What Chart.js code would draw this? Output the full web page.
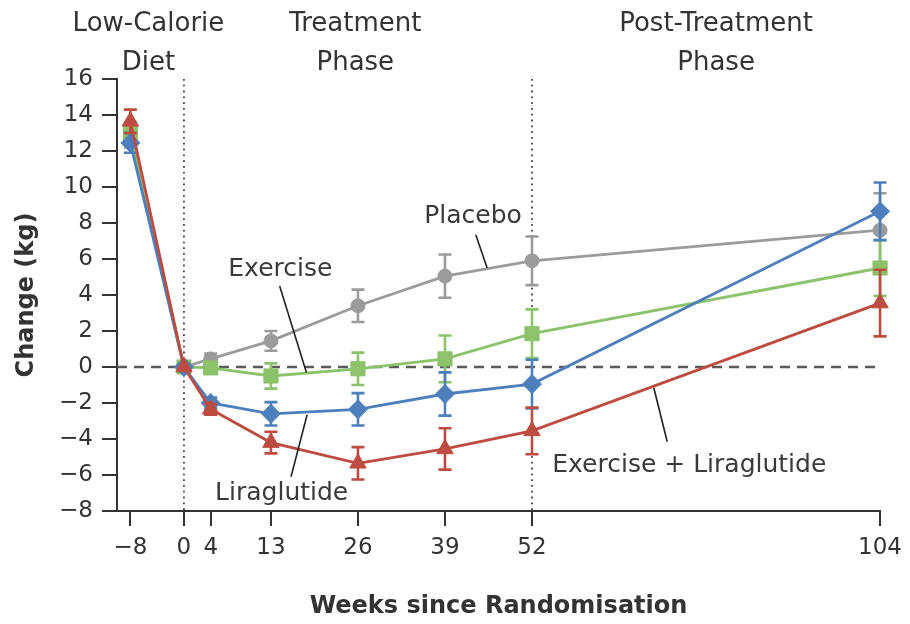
<!DOCTYPE html>
<html>
<head>
<meta charset="utf-8">
<title>Change in body weight since randomisation</title>
<script src="https://cdn.jsdelivr.net/npm/chart.js@4.4.1/dist/chart.umd.min.js"></script>
<style>
    html, body { margin: 0; padding: 0; background: #fff; }
    #wrap { width: 910px; height: 624px; }
</style>
</head>
<body>
<div id="wrap"><canvas id="chart" width="910" height="624"></canvas></div>
<script>
// weeks since randomisation (x values) and the tick positions shown
const weeks = [-8, 0, 4, 13, 26, 39, 52, 104];
const xTicks = [-8, 0, 4, 13, 26, 39, 52, 104];

// mean change in weight (kg) per group
const placebo     = [12.8, 0, 0.45, 1.45, 3.4, 5.05, 5.9, 7.6];
const exercise    = [13.0, 0, -0.05, -0.5, -0.1, 0.45, 1.85, 5.5];
const liraglutide = [12.45, 0, -2.0, -2.6, -2.35, -1.5, -0.95, 8.65];
const combined    = [13.65, 0, -2.35, -4.2, -5.35, -4.55, -3.55, 3.55];

// error bar half-widths (kg)
const placeboErr     = [0.6, 0, 0.3, 0.55, 0.9, 1.2, 1.35, 2.05];
const exerciseErr    = [0.6, 0, 0.3, 0.7, 0.9, 1.3, 1.35, 1.55];
const liraglutideErr = [0.55, 0, 0.3, 0.65, 0.9, 1.2, 1.35, 1.6];
const combinedErr    = [0.65, 0, 0.3, 0.6, 0.9, 1.15, 1.3, 1.85];

const FONT = "'DejaVu Sans', sans-serif";
const TEXT = '#333';

// phase headings above the plot (x in weeks)
const phases = [
    { x: -5.3, lines: ['Low-Calorie', 'Diet'] },
    { x: 25.6, lines: ['Treatment', 'Phase'] },
    { x: 79.5, lines: ['Post-Treatment', 'Phase'] },
];

// series labels with leader lines, in data coordinates
const callouts = [
    { text: 'Exercise', at: [14.4, 5.4], from: [14.3, 4.5], to: [18.3, -0.3] },
    { text: 'Liraglutide', at: [14.6, -7.0], from: [16.0, -6.1], to: [18.4, -2.65] },
    { text: 'Placebo', at: [43.2, 8.35], from: [43.6, 7.35], to: [45.3, 5.5] },
    { text: 'Exercise + Liraglutide', at: [75.5, -5.45], from: [70.2, -1.15], to: [72.2, -4.15] },
];

const toPoints = vals => weeks.map((w, i) => ({ x: w, y: vals[i] }));
const minus = v => String(v).replace('-', '\u2212');

function series(label, vals, errs, color, style, radius, order) {
    return {
        label,
        data: toPoints(vals),
        errors: errs,
        borderColor: color,
        backgroundColor: color,
        borderWidth: 2.8,
        pointStyle: style,
        pointRadius: radius,
        pointBorderWidth: 1,
        pointBackgroundColor: color,
        pointBorderColor: color,
        tension: 0,
        clip: false,
        order,
    };
}

const errorBars = {
    id: 'errorBars',
    beforeDatasetDraw(chart, args) {
        const ds = chart.data.datasets[args.index];
        const yScale = chart.scales.y;
        const ctx = chart.ctx;
        ctx.save();
        ctx.strokeStyle = ds.borderColor;
        ctx.lineWidth = 2.6;
        args.meta.data.forEach((pt, i) => {
            const e = ds.errors[i];
            if (!e) return;
            const v = ds.data[i].y;
            const top = yScale.getPixelForValue(v + e);
            const bot = yScale.getPixelForValue(v - e);
            ctx.beginPath();
            ctx.moveTo(pt.x, top); ctx.lineTo(pt.x, bot);
            ctx.moveTo(pt.x - 6.5, top); ctx.lineTo(pt.x + 6.5, top);
            ctx.moveTo(pt.x - 6.5, bot); ctx.lineTo(pt.x + 6.5, bot);
            ctx.stroke();
        });
        ctx.restore();
    }
};

const refLines = {
    id: 'refLines',
    beforeDatasetsDraw(chart) {
        const { ctx, chartArea: a, scales: { x, y } } = chart;
        ctx.save();
        // zero line
        ctx.strokeStyle = '#5a5a5a';
        ctx.lineWidth = 2.5;
        ctx.setLineDash([10, 7]);
        const y0 = y.getPixelForValue(0);
        ctx.beginPath();
        ctx.moveTo(a.left, y0); ctx.lineTo(a.right, y0);
        ctx.stroke();
        // phase boundaries
        ctx.strokeStyle = '#444';
        ctx.lineWidth = 1.8;
        ctx.setLineDash([1.8, 4]);
        [0, 52].forEach(w => {
            const px = x.getPixelForValue(w);
            ctx.beginPath();
            ctx.moveTo(px, a.top); ctx.lineTo(px, a.bottom);
            ctx.stroke();
        });
        ctx.restore();
    }
};

const labels = {
    id: 'labels',
    afterDraw(chart) {
        const { ctx, chartArea: a, scales: { x, y } } = chart;
        ctx.save();
        ctx.fillStyle = TEXT;
        ctx.textAlign = 'center';
        ctx.textBaseline = 'middle';
        ctx.font = `26px ${FONT}`;
        phases.forEach(p => {
            const px = x.getPixelForValue(p.x);
            ctx.fillText(p.lines[0], px, a.top - 55);
            ctx.fillText(p.lines[1], px, a.top - 16);
        });

        ctx.strokeStyle = '#222';
        ctx.lineWidth = 1.6;
        ctx.font = `25px ${FONT}`;
        callouts.forEach(c => {
            ctx.beginPath();
            ctx.moveTo(x.getPixelForValue(c.from[0]), y.getPixelForValue(c.from[1]));
            ctx.lineTo(x.getPixelForValue(c.to[0]), y.getPixelForValue(c.to[1]));
            ctx.stroke();
            ctx.fillStyle = '#3a3a3a';
            ctx.fillText(c.text, x.getPixelForValue(c.at[0]), y.getPixelForValue(c.at[1]));
        });
        ctx.restore();
    }
};

new Chart(document.getElementById('chart'), {
    type: 'line',
    data: {
        datasets: [
            series('Placebo', placebo, placeboErr, '#9b9b9b', 'circle', 7, 4),
            series('Exercise', exercise, exerciseErr, '#8cc26a', 'rect', 10, 3),
            series('Liraglutide', liraglutide, liraglutideErr, '#4e7fbd', 'rectRot', 9.5, 2),
            series('Exercise + Liraglutide', combined, combinedErr, '#bd4b40', 'triangle', 9.5, 1),
        ]
    },
    options: {
        responsive: false,
        animation: false,
        layout: { padding: { top: 79, right: 28, left: 0, bottom: 0 } },
        plugins: {
            legend: { display: false },
            tooltip: { enabled: false },
        },
        scales: {
            x: {
                type: 'linear',
                min: -10,
                max: 104,
                afterFit: s => { s.height = 113; },
                afterBuildTicks: s => { s.ticks = xTicks.map(v => ({ value: v })); },
                grid: { drawOnChartArea: false, drawTicks: true, tickLength: 15, color: '#333', lineWidth: 2 },
                border: { display: true, color: '#333', width: 2 },
                ticks: {
                    autoSkip: false,
                    maxRotation: 0,
                    padding: 8,
                    color: TEXT,
                    font: { family: FONT, size: 23 },
                    callback: v => minus(v),
                },
                title: {
                    display: true,
                    text: 'Weeks since Randomisation',
                    color: TEXT,
                    font: { family: FONT, size: 24, weight: 'bold' },
                    padding: { top: 0, bottom: 3 },
                },
            },
            y: {
                min: -8,
                max: 16,
                afterFit: s => { s.width = 117; },
                grid: { drawOnChartArea: false, drawTicks: true, tickLength: 15, color: '#333', lineWidth: 2 },
                border: { display: true, color: '#333', width: 2 },
                ticks: {
                    stepSize: 2,
                    padding: 9,
                    color: TEXT,
                    font: { family: FONT, size: 23 },
                    callback: v => minus(v),
                },
                title: {
                    display: true,
                    text: 'Change (kg)',
                    color: TEXT,
                    font: { family: FONT, size: 24, weight: 'bold' },
                    padding: { top: 12, bottom: 0 },
                },
            },
        },
    },
    plugins: [errorBars, refLines, labels],
});
</script>
</body>
</html>
